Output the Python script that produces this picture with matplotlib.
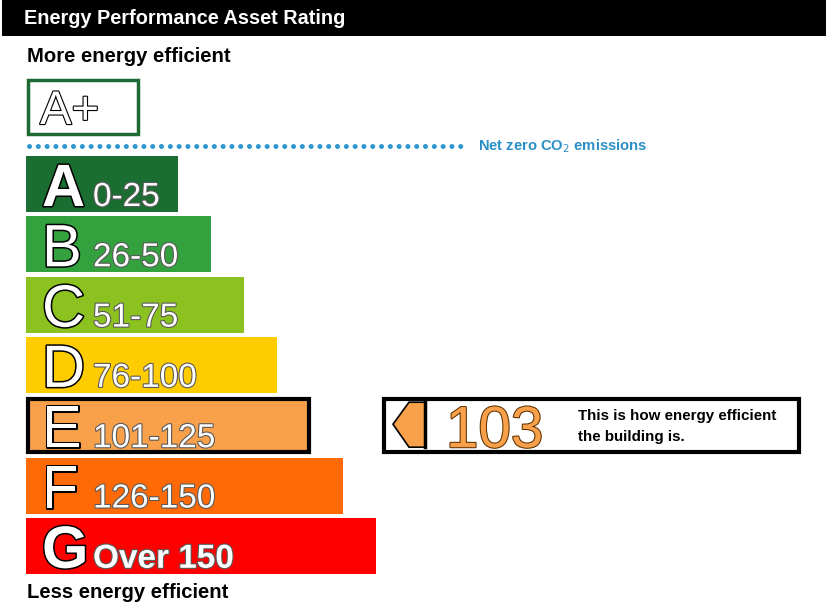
#!/usr/bin/env python3
"""Energy Performance Asset Rating label (EPC style band chart)."""

import matplotlib
matplotlib.use("Agg")
import matplotlib.pyplot as plt
import matplotlib.patheffects as pe
from matplotlib.patches import Rectangle, Polygon

# --- data -------------------------------------------------------------
bands = ["A", "B", "C", "D", "E", "F", "G"]
ranges = ["0-25", "26-50", "51-75", "76-100", "101-125", "126-150", "Over 150"]
colors = ["#1a6e31", "#33a13d", "#8cc21f", "#ffcc00", "#f9a14a", "#ff6a06", "#ff0000"]
top_band = "A+"
rating = 103
rating_band = "E"
title = "Energy Performance Asset Rating"
top_text = "More energy efficient"
bottom_text = "Less energy efficient"
netzero_text = "Net zero CO$_2$ emissions"
note_lines = ["This is how energy efficient", "the building is."]

plt.rcParams["font.family"] = ["Liberation Sans", "DejaVu Sans"]

W, H = 826, 612
fig = plt.figure(figsize=(W / 100, H / 100), dpi=100)
ax = fig.add_axes([0, 0, 1, 1])
ax.set_xlim(0, W)
ax.set_ylim(H, 0)
ax.axis("off")

# header
ax.add_patch(Rectangle((2, 0), W - 2, 36, color="black", lw=0))
ax.text(24, 19, title, color="white", fontsize=14.3, fontweight="bold", va="center")
ax.text(27, 57, top_text, color="black", fontsize=14.6, fontweight="bold", va="center")

# A+ box
ax.add_patch(Rectangle((27.5, 79.5), 110, 54, fill=False, ec="#1e6a35", lw=2.5))
ax.text(40, 124, top_band, color="white", fontsize=34, va="baseline",
        path_effects=[pe.withStroke(linewidth=1.6, foreground="black")])

# net zero dotted line
ax.plot([29, 465], [146, 146], color="#2e96cf", lw=3.6,
        linestyle=(0, (0.01, 1.75)), dash_capstyle="round")
ax.text(478, 146, netzero_text, color="#2a8fc7", fontsize=10.6,
        fontweight="bold", va="center")

# bands
left, top0, pitch, bar_h = 26, 156, 60.3, 56
base_w, step_w = 152, 33
tops = [top0 + i * pitch for i in range(len(bands))]
widths = [base_w + step_w * i for i in range(len(bands))]
ax.barh(tops, widths, height=bar_h, left=left, align="edge", color=colors, lw=0)

letter_fx = [pe.withStroke(linewidth=2.2, foreground="black")]
range_fx = [pe.withStroke(linewidth=1.6, foreground="#5a5a5a")]
for i, (b, r) in enumerate(zip(bands, ranges)):
    base = tops[i] + bar_h - 6
    ax.text(42, base, b, color="white", fontsize=43, va="baseline",
            fontweight="bold" if b in ("A", "G") else "normal", path_effects=letter_fx)
    ax.text(93, base, r, color="white", fontsize=24, va="baseline",
            fontweight="bold" if b == "G" else "normal", path_effects=range_fx)
    if b == rating_band:
        ax.add_patch(Rectangle((left + 1.5, tops[i] + 1.5), widths[i] - 3, bar_h - 3,
                               fill=False, ec="black", lw=3))
        row_top = tops[i]
        band_color = colors[i]

# rating indicator box
ax.add_patch(Rectangle((383.5, row_top + 1.5), 415, bar_h - 3, fill=False, ec="black", lw=3))
ax.add_patch(Polygon([(393, row_top + 27), (409, row_top + 5), (425, row_top + 5),
                      (425, row_top + 50), (409, row_top + 50)],
                     closed=True, fc=band_color, ec="black", lw=1.2))
ax.plot([425, 425], [row_top + 5, row_top + 50], color="black", lw=2.5)
ax.text(446, row_top + 50, str(rating), color=band_color, fontsize=42, va="baseline",
        path_effects=[pe.withStroke(linewidth=1.5, foreground="#5a3000")])
ax.text(578, row_top + 23, note_lines[0], color="black", fontsize=10.9,
        fontweight="bold", va="baseline")
ax.text(578, row_top + 44, note_lines[1], color="black", fontsize=10.9,
        fontweight="bold", va="baseline")

ax.text(27, 593, bottom_text, color="black", fontsize=14.6, fontweight="bold", va="center")

fig.savefig("out.png", dpi=100)
